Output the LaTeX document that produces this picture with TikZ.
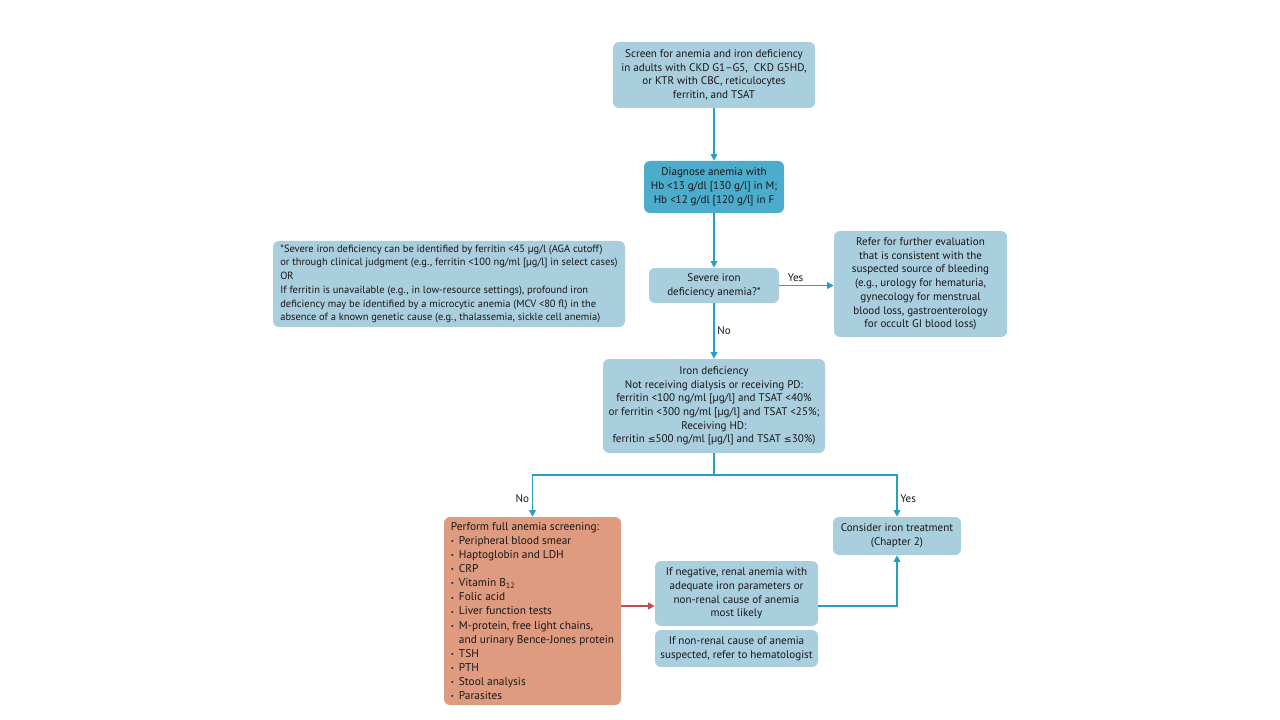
\documentclass[tikz,border=0pt]{standalone}
\usepackage{fontspec}
\setmainfont{PT Sans}
\newfontfamily\symfont{DejaVu Sans}
\usetikzlibrary{arrows.meta}
\definecolor{boxblue}{HTML}{A9CEDD}
\definecolor{darkblue}{HTML}{4BACCB}
\definecolor{linkblue}{HTML}{2A9DC2}
\definecolor{salmon}{HTML}{DF9B80}
\definecolor{redarrow}{HTML}{C0504D}
\definecolor{txt}{HTML}{1A1718}
\newcommand{\bul}{\makebox[6pt][l]{\raisebox{0.6pt}{\fontsize{5}{5}\selectfont•}}}
\newcommand{\lesseq}{{\symfont\fontsize{7}{10}\selectfont ≤}}
\begin{document}
\begin{tikzpicture}[x=0.75pt,y=-0.75pt,
  box/.style={fill=boxblue, rounded corners=4.5pt, align=center, inner sep=0pt,
    font=\fontsize{8.3}{10.3}\selectfont, text=txt},
  link/.style={draw=linkblue, line width=1.1pt, -{Triangle[length=5pt,width=5pt]}},
  plainlink/.style={draw=linkblue, line width=1.1pt},
  redlink/.style={draw=redarrow, line width=1.1pt, -{Triangle[length=5pt,width=5pt]}},
  lbl/.style={font=\fontsize{8.3}{10}\selectfont, text=txt, inner sep=2pt}]
\useasboundingbox (0,0) rectangle (1280,720);

\node[box, minimum width=151.5pt, minimum height=49.5pt] (top) at (714,75)
  {Screen for anemia and iron deficiency\\in adults with CKD G1–G5,\ \ CKD G5HD,\\or KTR with CBC, reticulocytes\\ferritin, and TSAT};
\node[box, fill=darkblue, minimum width=105pt, minimum height=39pt] (diag) at (714,187)
  {Diagnose anemia with\\Hb <13 g/dl [130 g/l] in M;\\Hb <12 g/dl [120 g/l] in F};
\node[box, align=left, minimum width=264pt, minimum height=64.5pt,
  font=\fontsize{7.85}{10.3}\selectfont] (foot) at (449,284)
  {*Severe iron deficiency can be identified by ferritin <45 µg/l (AGA cutoff)\\or through clinical judgment (e.g., ferritin <100 ng/ml [µg/l] in select cases)\\OR\\If ferritin is unavailable (e.g., in low-resource settings), profound iron\\deficiency may be identified by a microcytic anemia (MCV <80 fl) in the\\absence of a known genetic cause (e.g., thalassemia, sickle cell anemia)};
\node[box, minimum width=97.5pt, minimum height=26.25pt] (severe) at (714,285.5)
  {Severe iron\\deficiency anemia?*};
\node[box, minimum width=129.75pt, minimum height=79.5pt] (refer) at (920.5,284)
  {Refer for further evaluation\\that is consistent with the\\suspected source of bleeding\\(e.g., urology for hematuria,\\gynecology for menstrual\\blood loss, gastroenterology\\for occult GI blood loss)};
\node[box, minimum width=166.5pt, minimum height=70.5pt] (iron) at (714,406)
  {Iron deficiency\\Not receiving dialysis or receiving PD:\\ferritin <100 ng/ml [µg/l] and TSAT <40\%\\or ferritin <300 ng/ml [µg/l] and TSAT <25\%;\\Receiving HD:\\ferritin \lesseq 500 ng/ml [µg/l] and TSAT \lesseq 30\%)};
\node[box, fill=salmon, align=left, minimum width=132.75pt, minimum height=141pt,
  font=\fontsize{8.5}{10.6}\selectfont] (perform) at (532.5,611)
  {Perform full anemia screening:\\
   \bul Peripheral blood smear\\
   \bul Haptoglobin and LDH\\
   \bul CRP\\
   \bul Vitamin B\textsubscript{12}\\
   \bul Folic acid\\
   \bul Liver function tests\\
   \bul M-protein, free light chains,\\
   \hspace*{6pt}and urinary Bence-Jones protein\\
   \bul TSH\\
   \bul PTH\\
   \bul Stool analysis\\
   \bul Parasites};
\node[box, minimum width=122.25pt, minimum height=48.75pt] (neg) at (736.5,593.5)
  {If negative, renal anemia with\\adequate iron parameters or\\non-renal cause of anemia\\most likely};
\node[box, minimum width=122.25pt, minimum height=27.75pt] (nonrenal) at (736.5,648.5)
  {If non-renal cause of anemia\\suspected, refer to hematologist};
\node[box, minimum width=96pt, minimum height=28.5pt] (consider) at (897,536)
  {Consider iron treatment\\(Chapter 2)};

\coordinate (split) at (714,475);

\draw[link] (top) -- (diag);
\draw[link] (diag) -- (severe);
\draw[link] (severe.east) -- node[lbl, above, pos=0.3] {Yes} (severe.east -| refer.west);
\draw[link] (severe) -- node[lbl, right, pos=0.5] {No} (iron);
\draw[plainlink] (iron.south) -- (split);
\draw[link] (split) -| node[lbl, left, pos=0.78] {No} (perform.north);
\draw[link] (split) -| node[lbl, right, pos=0.78] {Yes} (consider.north);
\draw[redlink] ([yshift=3.75pt]perform.east) -- ([yshift=3.75pt]perform.east -| neg.west);
\draw[link] ([yshift=-9.4pt]neg.east) -| (consider.south);
\end{tikzpicture}
\end{document}
